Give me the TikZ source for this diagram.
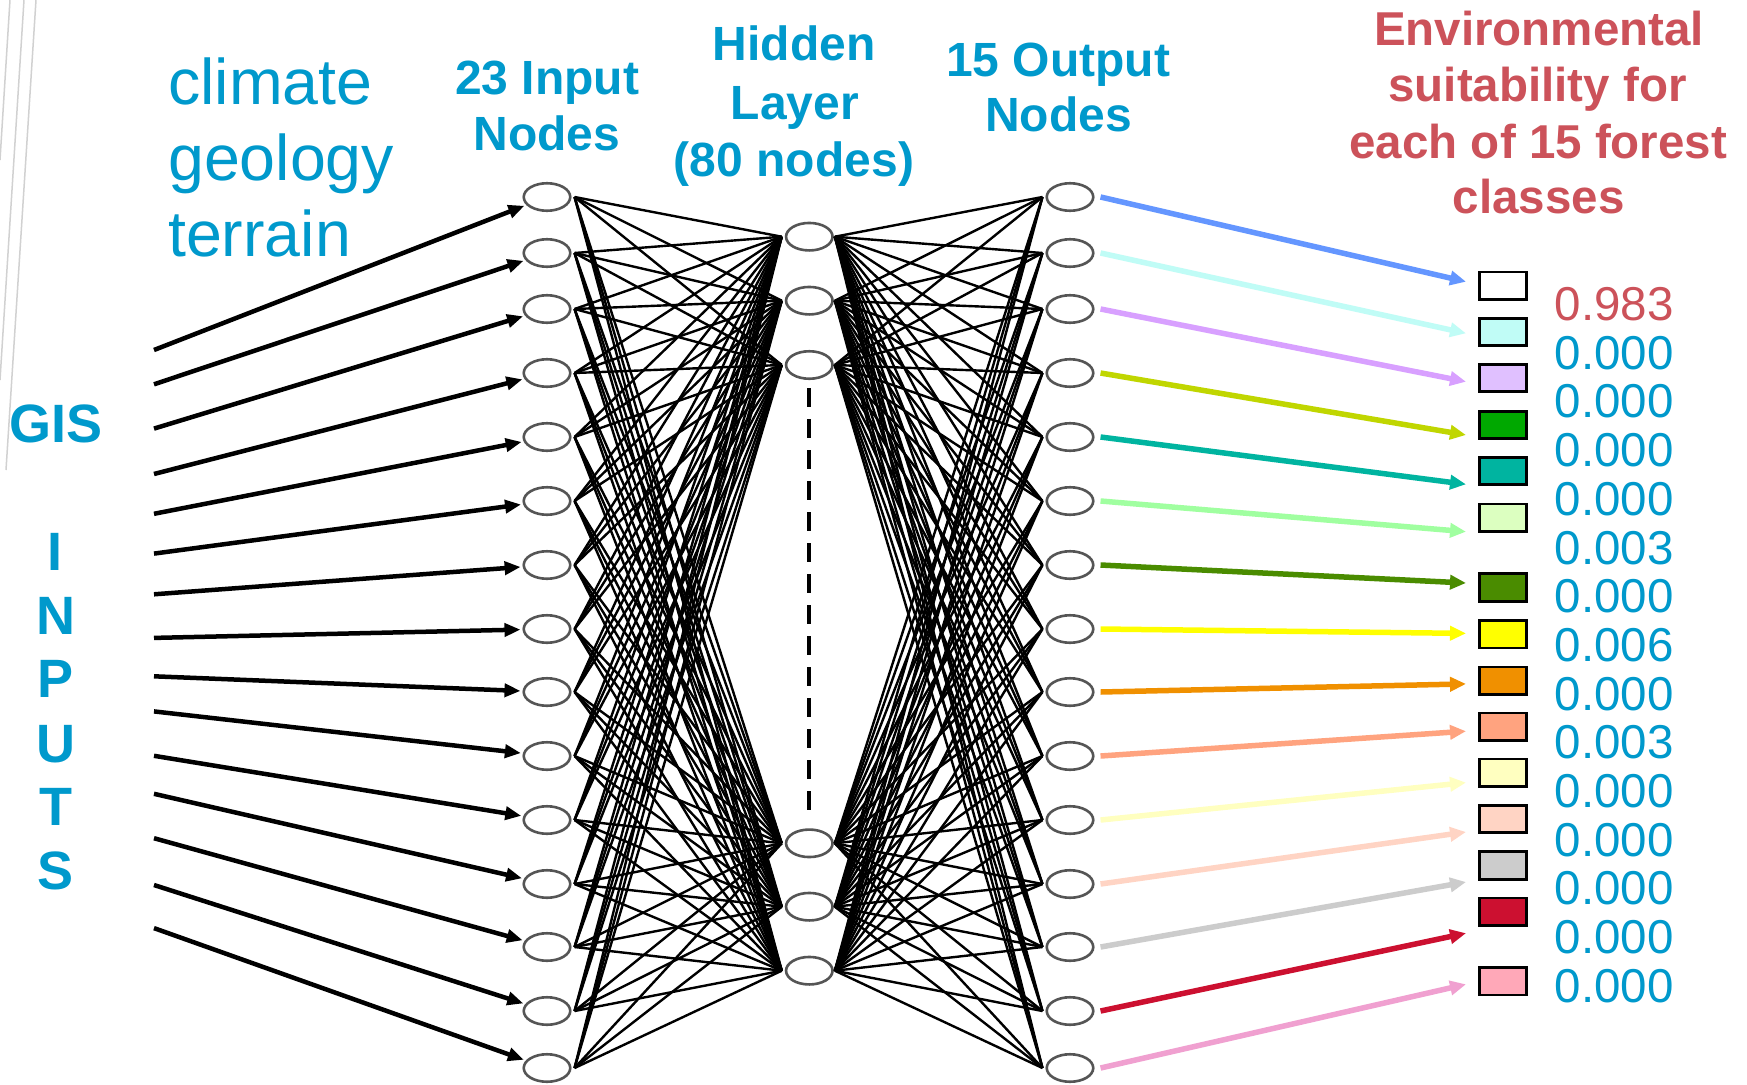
\documentclass[tikz,border=0pt]{standalone}
\usepackage{fontspec}
\setmainfont{Liberation Sans}
\usetikzlibrary{arrows.meta,shapes.geometric}
\definecolor{tblue}{RGB}{0,153,204}
\definecolor{tred}{RGB}{204,82,90}
\definecolor{ellgrey}{RGB}{85,85,85}
\definecolor{ca1}{RGB}{100,150,255}
\definecolor{ca2}{RGB}{192,252,246}
\definecolor{ca3}{RGB}{216,160,255}
\definecolor{ca4}{RGB}{192,214,0}
\definecolor{ca5}{RGB}{0,180,160}
\definecolor{ca6}{RGB}{160,255,160}
\definecolor{ca7}{RGB}{74,140,0}
\definecolor{ca8}{RGB}{255,255,0}
\definecolor{ca9}{RGB}{240,144,0}
\definecolor{ca10}{RGB}{255,163,127}
\definecolor{ca11}{RGB}{255,255,192}
\definecolor{ca12}{RGB}{255,212,196}
\definecolor{ca13}{RGB}{204,204,204}
\definecolor{ca14}{RGB}{204,16,48}
\definecolor{ca15}{RGB}{240,160,208}
\definecolor{cb1}{RGB}{255,255,255}
\definecolor{cb2}{RGB}{192,252,246}
\definecolor{cb3}{RGB}{224,192,255}
\definecolor{cb4}{RGB}{0,168,0}
\definecolor{cb5}{RGB}{0,180,160}
\definecolor{cb6}{RGB}{220,255,192}
\definecolor{cb7}{RGB}{74,140,0}
\definecolor{cb8}{RGB}{255,255,0}
\definecolor{cb9}{RGB}{240,144,0}
\definecolor{cb10}{RGB}{255,163,127}
\definecolor{cb11}{RGB}{255,255,192}
\definecolor{cb12}{RGB}{255,212,196}
\definecolor{cb13}{RGB}{204,204,204}
\definecolor{cb14}{RGB}{204,16,48}
\definecolor{cb15}{RGB}{255,168,184}
\begin{document}
\begin{tikzpicture}[x=1pt,y=-1pt,
  neuron/.style={ellipse,draw=ellgrey,line width=2.6pt,fill=white,
    minimum width=46.5pt,minimum height=27.5pt,inner sep=0pt},
  classbox/.style={rectangle,draw=black,line width=2.6pt,
    minimum width=46.5pt,minimum height=27.5pt,inner sep=0pt},
  wire/.style={black,line width=2.4pt},
  inarrow/.style={black,line width=4.5pt,shorten >=2pt,
    -{Triangle[length=16pt,width=13pt]}},
  outarrow/.style={line width=5.5pt,-{Triangle[length=16pt,width=14pt]}},
  dashline/.style={black,line width=3.8pt,dash pattern=on 19pt off 12pt},
  bluetxt/.style={text=tblue,inner sep=0pt,anchor=base},
  redtxt/.style={text=tred,inner sep=0pt,anchor=base},
  headfont/.style={font=\bfseries\fontsize{48}{56}\selectfont},
  redfont/.style={font=\bfseries\fontsize{47.5}{56}\selectfont},
  bigfont/.style={font=\fontsize{64.5}{75}\selectfont},
  gisfont/.style={font=\bfseries\fontsize{54}{60}\selectfont},
  numfont/.style={font=\fontsize{47.5}{48}\selectfont},
  deco/.style={line width=1.5pt,draw=black!18}
]
\useasboundingbox (0,0) rectangle (1747,1084);
\fill[white] (0,0) rectangle (1747,1084);

% decorative template lines (top left)
\draw[deco] (36,0) -- (6,470);
\draw[deco] (24,0) -- (0,380);
\draw[deco] (10,0) -- (0,160);

% layers of nodes
\foreach \k/\y in {1/197,2/253,3/309,4/373,5/437,6/501,7/565,8/629,9/692,10/756,11/820,12/884,13/947,14/1011,15/1068}{
  \node[neuron] (i\k) at (547,\y) {};
  \node[neuron] (o\k) at (1070,\y) {};
}
\foreach \j/\y in {1/236.7,2/300.7,3/365,4/843.3,5/906.7,6/970.7}{
  \node[neuron] (h\j) at (809.3,\y) {};
}

% full connections
\foreach \k in {1,...,15}{
  \foreach \j in {1,...,6}{
    \draw[wire] ([xshift=3pt]i\k.east) -- ([xshift=-3pt]h\j.west);
    \draw[wire] ([xshift=1pt]h\j.east) -- ([xshift=-3pt]o\k.west);
  }
}
\draw[dashline] ([yshift=-8pt]h3.south) -- ([yshift=11pt]h4.north);

% input arrows
\foreach \k/\y in {1/350,2/384.3,3/428.6,4/474,5/513.8,6/553.6,7/594.3,8/637.9,9/676.3,10/711.4,11/755.8,12/793.8,13/838.2,14/885,15/928.1}{
  \coordinate (s\k) at (154,\y);
  \draw[inarrow] (s\k) -- (i\k);
}

% class boxes
\foreach \k/\y in {1/285.7,2/332,3/378,4/425,5/471,6/517.7,7/587.5,8/634.3,9/680.8,10/726.8,11/772.8,12/819,13/865.5,14/911.9,15/981.4}{
  \node[classbox,fill=cb\k] (b\k) at (1503,\y) {};
}

% output arrows
\foreach \k/\y in {1/281.7,2/333.3,3/381.7,4/435,5/484.3,6/531.7,7/583,8/633.4,9/683.9,10/731.2,11/782.6,12/832,13/882,14/933.2,15/984.3}{
  \coordinate (t\k) at (1466,\y);
  \draw[outarrow,draw=ca\k,fill=ca\k] ([xshift=6pt]o\k.east) -- (t\k);
}

% values
\node[redtxt,numfont,anchor=base west] (v1) at (1554.5,320.5) {0.983};
\foreach \k/\v in {2/0.000,3/0.000,4/0.000,5/0.000,6/0.003,7/0.000,8/0.006,9/0.000,10/0.003,11/0.000,12/0.000,13/0.000,14/0.000,15/0.000}{
  \node[bluetxt,numfont,anchor=base west] (v\k) at (1554.5,{320.5+48.7*(\k-1)}) {\v};
}

% left texts
\node[bluetxt,bigfont,anchor=base west] (tclim) at (168,104) {climate};
\node[bluetxt,bigfont,anchor=base west] (tgeo) at (168,180) {geology};
\node[bluetxt,bigfont,anchor=base west] (tterr) at (168,256.7) {terrain};

\node[bluetxt,gisfont] (tgis) at (56,442) {GIS};
\foreach \n/\l/\y in {1/I/570,2/N/634,3/P/697,4/U/762,5/T/825,6/S/889}{
  \node[bluetxt,gisfont] (tin\n) at (55.5,\y) {\l};
}

% headers
\node[bluetxt,headfont] (hi1) at (547,94) {23 Input};
\node[bluetxt,headfont] (hi2) at (547,150) {Nodes};
\node[bluetxt,headfont] (hh1) at (794,60) {Hidden};
\node[bluetxt,headfont] (hh2) at (795,119.5) {Layer};
\node[bluetxt,headfont] (hh3) at (794,176.5) {(80 nodes)};
\node[bluetxt,headfont] (ho1) at (1058,76.7) {15 Output};
\node[bluetxt,headfont] (ho2) at (1058.5,131.7) {Nodes};

\node[redtxt,redfont] (r1) at (1539,45) {Environmental};
\node[redtxt,redfont] (r2) at (1537.5,101.7) {suitability for};
\node[redtxt,redfont] (r3) at (1538.3,158.3) {each of 15 forest};
\node[redtxt,redfont] (r4) at (1538.7,213.3) {classes};
\end{tikzpicture}
\end{document}
